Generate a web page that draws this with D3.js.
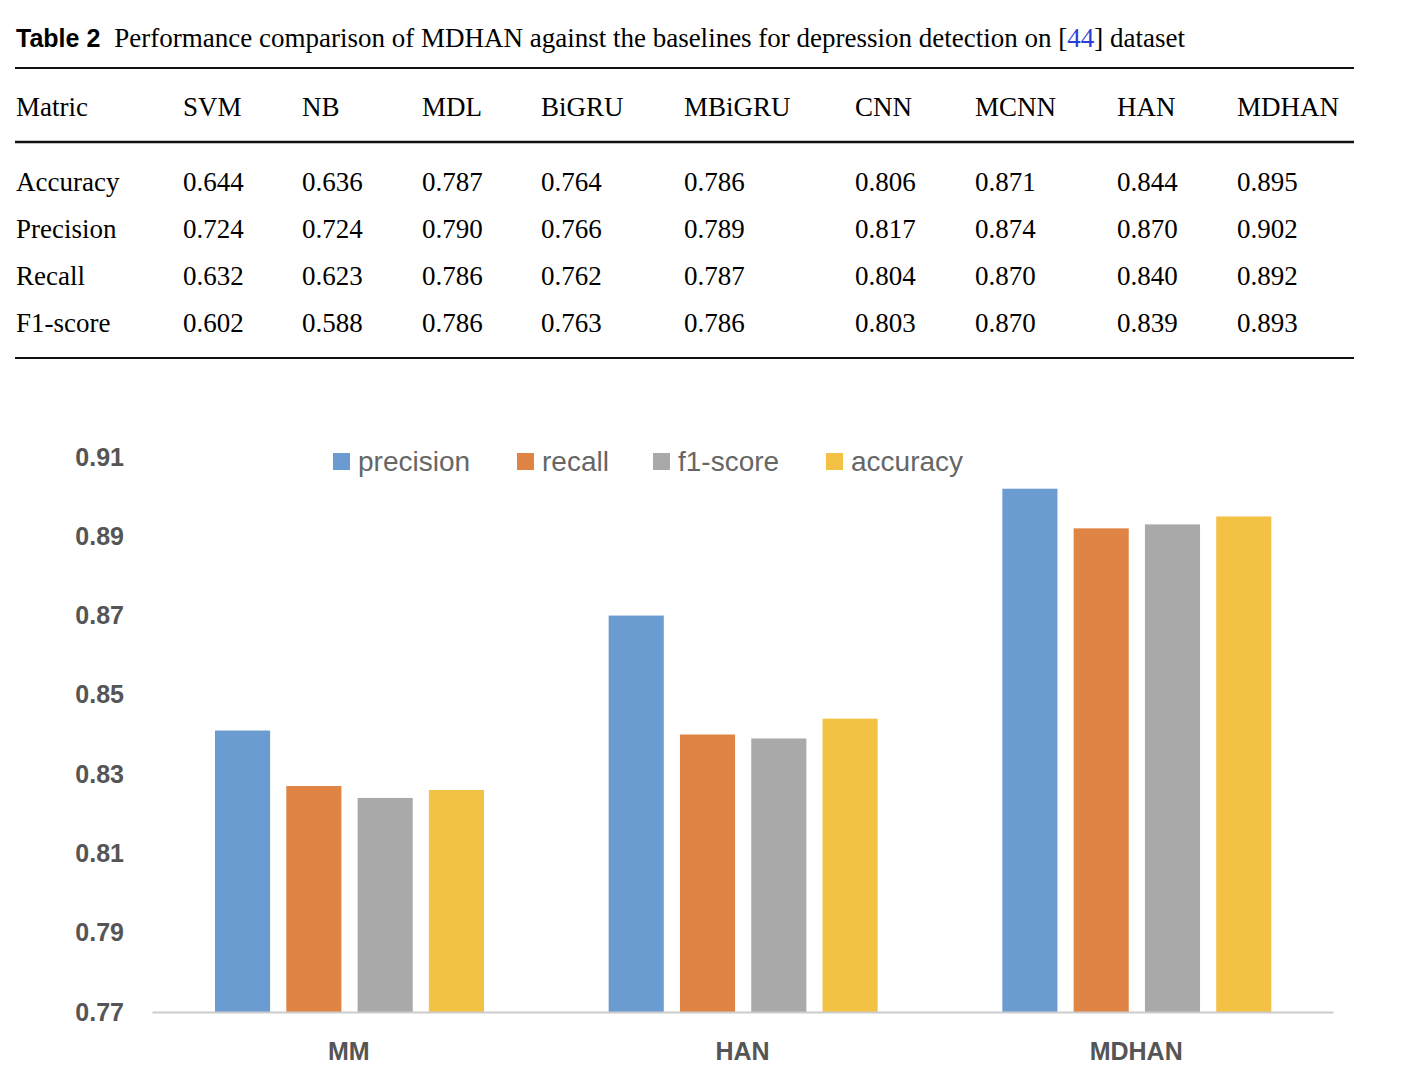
<!DOCTYPE html>
<html><head><meta charset="utf-8">
<script src="https://cdn.jsdelivr.net/npm/d3@7"></script>
<style>body{margin:0;background:#fff}</style>
</head><body>
<svg width="1408" height="1086"></svg>
<script>
// table data
const headers = [ 'Matric', 'SVM', 'NB', 'MDL', 'BiGRU', 'MBiGRU', 'CNN', 'MCNN', 'HAN', 'MDHAN' ];
const rowNames = [ 'Accuracy', 'Precision', 'Recall', 'F1-score' ];
const rowValues = [
    [ '0.644', '0.636', '0.787', '0.764', '0.786', '0.806', '0.871', '0.844', '0.895' ],
    [ '0.724', '0.724', '0.790', '0.766', '0.789', '0.817', '0.874', '0.870', '0.902' ],
    [ '0.632', '0.623', '0.786', '0.762', '0.787', '0.804', '0.870', '0.840', '0.892' ],
    [ '0.602', '0.588', '0.786', '0.763', '0.786', '0.803', '0.870', '0.839', '0.893' ]
];

// chart data
const groups = [ 'MM', 'HAN', 'MDHAN' ];
const series = [ 'precision', 'recall', 'f1-score', 'accuracy' ];
const precision = [ 0.841, 0.870, 0.902 ];
const recall = [ 0.827, 0.840, 0.892 ];
const f1score = [ 0.824, 0.839, 0.893 ];
const accuracy = [ 0.826, 0.844, 0.895 ];
const yTicks = [ 0.77, 0.79, 0.81, 0.83, 0.85, 0.87, 0.89, 0.91 ];
const colors = [ '#6a9bd1', '#e08445', '#a9a9a9', '#f3c244' ];

const svg = d3.select( 'svg' );
const serif = '"Liberation Serif", "DejaVu Serif", serif';
const sans = '"Liberation Sans", Arial, sans-serif';

// caption
const cap = svg.append( 'text' ).attr( 'x', 16 ).attr( 'y', 47 ).style( 'font-size', '27px' );
cap.append( 'tspan' ).style( 'font-family', sans ).style( 'font-weight', 'bold' ).style( 'font-size', '25px' ).text( 'Table 2' );
cap.append( 'tspan' ).attr( 'dx', 14 ).style( 'font-family', serif ).text( 'Performance comparison of MDHAN against the baselines for depression detection on [' );
cap.append( 'tspan' ).style( 'font-family', serif ).attr( 'fill', '#2a3fd6' ).text( '44' );
cap.append( 'tspan' ).style( 'font-family', serif ).text( '] dataset' );

// rules
[ [ 68, 2 ], [ 142, 2.5 ], [ 358, 2 ] ].forEach( ( [ y, w ] ) => {
    svg.append( 'line' ).attr( 'x1', 15 ).attr( 'x2', 1354 ).attr( 'y1', y ).attr( 'y2', y )
        .attr( 'stroke', '#111' ).attr( 'stroke-width', w );
} );

const colX = [ 16, 183, 302, 422, 541, 684, 855, 975, 1117, 1237 ];
svg.append( 'g' ).selectAll( 'text' ).data( headers ).enter().append( 'text' )
    .attr( 'x', ( d, i ) => colX[ i ] ).attr( 'y', 116 )
    .style( 'font-family', serif ).style( 'font-size', '27px' ).text( d => d );

const rowY = [ 191, 238, 285, 332 ];
rowNames.forEach( ( name, r ) => {
    const cells = [ name ].concat( rowValues[ r ] );
    svg.append( 'g' ).selectAll( 'text' ).data( cells ).enter().append( 'text' )
        .attr( 'x', ( d, i ) => colX[ i ] ).attr( 'y', rowY[ r ] )
        .style( 'font-family', serif ).style( 'font-size', '27px' ).text( d => d );
} );

// chart
const y = d3.scaleLinear().domain( [ 0.77, 0.91 ] ).range( [ 1012, 457 ] );
const x0 = d3.scaleBand().domain( groups ).range( [ 152, 1333 ] ).padding( 0 );
const x1 = d3.scaleBand().domain( series ).range( [ 63, 332 ] ).paddingInner( 0.227 ).paddingOuter( 0 );
const data = groups.map( ( g, i ) => ( { g, vals: [ precision[ i ], recall[ i ], f1score[ i ], accuracy[ i ] ] } ) );

const yAxis = svg.append( 'g' ).attr( 'transform', 'translate(124,0)' )
    .call( d3.axisLeft( y ).tickValues( yTicks ).tickFormat( d3.format( '.2f' ) ).tickSize( 0 ).tickPadding( 0 ) );
yAxis.select( '.domain' ).remove();
yAxis.selectAll( 'text' ).style( 'font-family', sans ).style( 'font-weight', 'bold' )
    .style( 'font-size', '25px' ).attr( 'fill', '#555' );

svg.append( 'g' ).selectAll( 'g' ).data( data ).enter().append( 'g' )
    .attr( 'transform', d => `translate(${x0( d.g )},0)` )
    .selectAll( 'rect' ).data( d => d.vals.map( ( v, k ) => ( { k, v } ) ) ).enter().append( 'rect' )
    .attr( 'x', d => x1( series[ d.k ] ) ).attr( 'width', x1.bandwidth() )
    .attr( 'y', d => y( d.v ) ).attr( 'height', d => y( 0.77 ) - y( d.v ) )
    .attr( 'fill', d => colors[ d.k ] );

const xAxis = svg.append( 'g' ).attr( 'transform', 'translate(0,1012)' )
    .call( d3.axisBottom( x0 ).tickSize( 0 ).tickPadding( 30 ) );
xAxis.select( '.domain' ).attr( 'stroke', '#ccc' ).attr( 'stroke-width', 2 );
xAxis.selectAll( 'text' ).style( 'font-family', sans ).style( 'font-weight', 'bold' )
    .style( 'font-size', '25px' ).attr( 'fill', '#555' );

// legend
const legX = [ 333, 517, 653, 826 ];
const leg = svg.append( 'g' ).selectAll( 'g' ).data( series ).enter().append( 'g' )
    .attr( 'transform', ( d, i ) => `translate(${legX[ i ]},453)` );
leg.append( 'rect' ).attr( 'width', 17 ).attr( 'height', 17 ).attr( 'fill', ( d, i ) => colors[ i ] );
leg.append( 'text' ).attr( 'x', 25 ).attr( 'y', 18 ).style( 'font-family', sans )
    .style( 'font-size', '28px' ).attr( 'fill', '#666' ).text( d => d );
</script>
</body></html>
